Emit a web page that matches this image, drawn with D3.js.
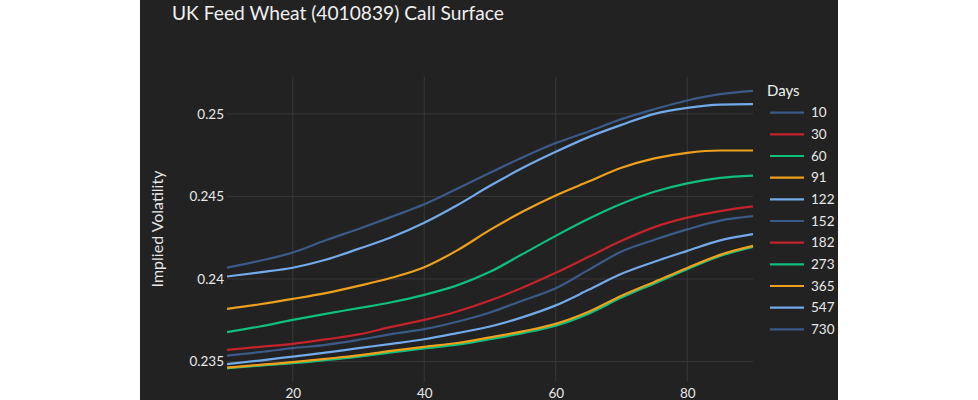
<!DOCTYPE html>
<html>
<head>
<meta charset="utf-8">
<script src="https://cdn.jsdelivr.net/npm/d3@7"></script>
<style>
  html, body { margin: 0; padding: 0; background: #ffffff; }
  svg { display: block; }
</style>
</head>
<body>
<svg id="chart" width="978" height="400"></svg>
<script>
// ---- data ----
const title = "UK Feed Wheat (4010839) Call Surface";
const yTitle = "Implied Volatility";
const legendTitle = "Days";
const xValues = [10, 15, 20, 25, 30, 35, 40, 45, 50, 55, 60, 65, 70, 75, 80, 85, 90];
const xTicks = [20, 40, 60, 80];
const yTicks = [0.235, 0.24, 0.245, 0.25];
const days = ["10", "30", "60", "91", "122", "152", "182", "273", "365", "547", "730"];
const colorCycle = ["#3b5a88", "#c4232c", "#0fbf7e", "#eda01c", "#72aaea"];

const d10  = [0.23461, 0.23477, 0.23492, 0.23511, 0.23532, 0.23558, 0.23583, 0.23606, 0.23639, 0.23676, 0.23721, 0.23794, 0.23891, 0.23976, 0.24062, 0.24142, 0.24196];
const d30  = [0.23462, 0.23478, 0.23494, 0.23513, 0.23534, 0.23560, 0.23585, 0.23608, 0.23641, 0.23678, 0.23723, 0.23796, 0.23893, 0.23978, 0.24063, 0.24143, 0.24197];
const d60  = [0.23459, 0.23475, 0.23490, 0.23509, 0.23530, 0.23555, 0.23579, 0.23602, 0.23635, 0.23672, 0.23717, 0.23790, 0.23887, 0.23973, 0.24059, 0.24139, 0.24194];
const d91  = [0.23463, 0.23480, 0.23496, 0.23516, 0.23537, 0.23564, 0.23589, 0.23612, 0.23646, 0.23683, 0.23728, 0.23801, 0.23898, 0.23982, 0.24067, 0.24146, 0.24200];
const d122 = [0.23484, 0.23506, 0.23530, 0.23554, 0.23581, 0.23607, 0.23635, 0.23672, 0.23712, 0.23769, 0.23840, 0.23934, 0.24031, 0.24104, 0.24170, 0.24234, 0.24271];
const d152 = [0.23536, 0.23557, 0.23581, 0.23601, 0.23631, 0.23666, 0.23696, 0.23741, 0.23797, 0.23870, 0.23944, 0.24055, 0.24166, 0.24237, 0.24300, 0.24353, 0.24380];
const d182 = [0.23571, 0.23589, 0.23607, 0.23634, 0.23664, 0.23710, 0.23752, 0.23803, 0.23869, 0.23948, 0.24037, 0.24134, 0.24231, 0.24314, 0.24371, 0.24411, 0.24439];
const d273 = [0.23678, 0.23712, 0.23752, 0.23789, 0.23823, 0.23859, 0.23904, 0.23961, 0.24043, 0.24152, 0.24261, 0.24364, 0.24455, 0.24528, 0.24579, 0.24612, 0.24626];
const d365 = [0.23819, 0.23847, 0.23879, 0.23914, 0.23958, 0.24007, 0.24071, 0.24173, 0.24297, 0.24409, 0.24506, 0.24590, 0.24673, 0.24730, 0.24764, 0.24778, 0.24778];
const d547 = [0.24015, 0.24040, 0.24068, 0.24116, 0.24182, 0.24252, 0.24340, 0.24446, 0.24564, 0.24673, 0.24770, 0.24859, 0.24933, 0.25000, 0.25036, 0.25056, 0.25059];
const d730 = [0.24069, 0.24110, 0.24160, 0.24234, 0.24303, 0.24376, 0.24452, 0.24546, 0.24643, 0.24737, 0.24823, 0.24893, 0.24968, 0.25028, 0.25081, 0.25119, 0.25139];
const seriesValues = [d10, d30, d60, d91, d122, d152, d182, d273, d365, d547, d730];

// ---- layout ----
const W = 978, H = 400;
const panel = { x0: 140, x1: 838 };
const plot = { left: 227, right: 753, top: 77, bottom: 382 };
const bg = "#222222";
const gridColor = "#383838";
const textColor = "#e8e8e8";
const font = "Lato, 'Open Sans', sans-serif";

const svg = d3.select("#chart");
svg.append("rect").attr("x", panel.x0).attr("y", 0)
  .attr("width", panel.x1 - panel.x0).attr("height", H).attr("fill", bg);

const x = d3.scaleLinear().domain([10, 90]).range([plot.left, plot.right]);
const y = d3.scaleLinear().domain([0.23376, 0.25223]).range([plot.bottom, plot.top]);

// grid
const grid = svg.append("g");
grid.selectAll("line.v").data(xTicks).join("line")
  .attr("x1", d => x(d)).attr("x2", d => x(d))
  .attr("y1", plot.top).attr("y2", plot.bottom)
  .attr("stroke", gridColor).attr("stroke-width", 1);
grid.selectAll("line.h").data(yTicks).join("line")
  .attr("x1", plot.left).attr("x2", plot.right)
  .attr("y1", d => y(d)).attr("y2", d => y(d))
  .attr("stroke", gridColor).attr("stroke-width", 1);

// axes
const xAxis = svg.append("g")
  .attr("transform", `translate(0,${plot.bottom})`)
  .call(d3.axisBottom(x).tickValues(xTicks).tickSize(0).tickPadding(6).tickFormat(d3.format("d")));
xAxis.select(".domain").remove();
xAxis.selectAll("text").attr("fill", textColor).style("font-family", font).style("font-size", "13.5px");

const yAxis = svg.append("g")
  .attr("transform", `translate(${plot.left},0)`)
  .call(d3.axisLeft(y).tickValues(yTicks).tickSize(0).tickPadding(3).tickFormat(d => String(+d.toFixed(3))));
yAxis.select(".domain").remove();
yAxis.selectAll("text").attr("fill", textColor).style("font-family", font).style("font-size", "13.5px");

// y axis title
svg.append("text")
  .attr("transform", `translate(163,229) rotate(-90)`)
  .attr("text-anchor", "middle")
  .attr("fill", textColor)
  .style("font-family", font).style("font-size", "16px")
  .text(yTitle);

// title
svg.append("text")
  .attr("x", 172).attr("y", 20)
  .attr("fill", "#f0f0f0")
  .style("font-family", font).style("font-size", "19.2px")
  .text(title);

// lines
const line = d3.line().x((d, i) => x(xValues[i])).y(d => y(d)).curve(d3.curveMonotoneX);
svg.append("g").selectAll("path").data(seriesValues).join("path")
  .attr("d", d => line(d))
  .attr("fill", "none")
  .attr("stroke", (d, i) => colorCycle[i % colorCycle.length])
  .attr("stroke-width", 2.2)
  .attr("stroke-linejoin", "round");

// legend
const legend = svg.append("g");
legend.append("text")
  .attr("x", 767).attr("y", 96)
  .attr("fill", "#f0f0f0")
  .style("font-family", font).style("font-size", "15px")
  .text(legendTitle);
const items = legend.selectAll("g.item").data(days).join("g")
  .attr("transform", (d, i) => `translate(0,${112.7 + i * 21.66})`);
items.append("line")
  .attr("x1", 770).attr("x2", 804).attr("y1", 0).attr("y2", 0)
  .attr("stroke", (d, i) => colorCycle[i % colorCycle.length])
  .attr("stroke-width", 2.2);
items.append("text")
  .attr("x", 811).attr("y", 0).attr("dy", "0.35em")
  .attr("fill", textColor)
  .style("font-family", font).style("font-size", "13.5px")
  .text(d => d);
</script>
</body>
</html>
